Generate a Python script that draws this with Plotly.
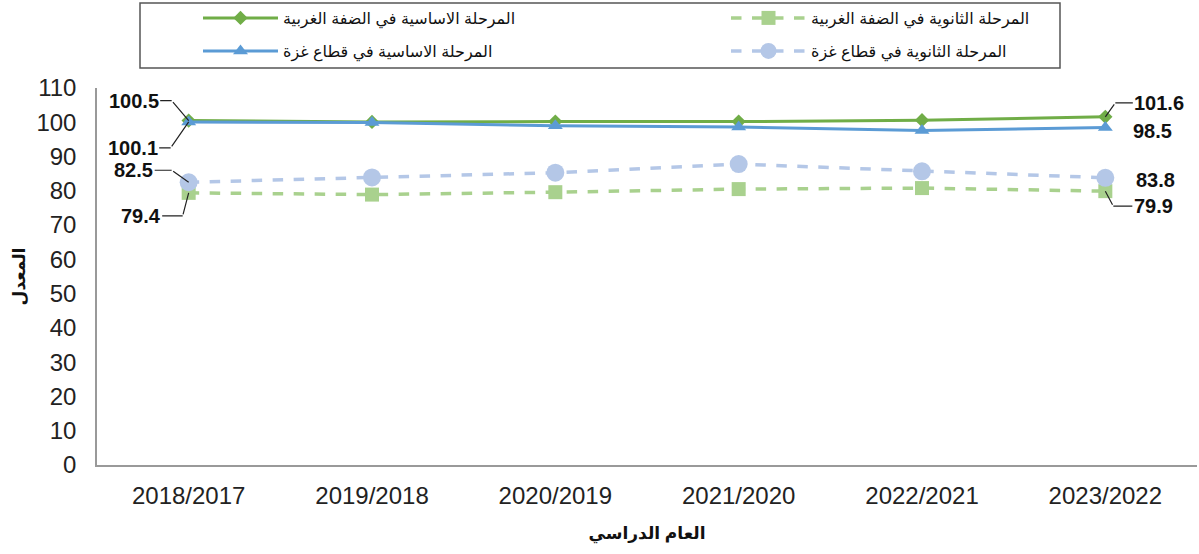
import plotly.graph_objects as go

years = ["2018/2017", "2019/2018", "2020/2019", "2021/2020", "2022/2021", "2023/2022"]
wb_basic = [100.5, 100.1, 100.2, 100.2, 100.6, 101.6]
wb_secondary = [79.4, 78.9, 79.6, 80.5, 80.8, 79.9]
gaza_basic = [100.1, 99.9, 99.0, 98.6, 97.6, 98.5]
gaza_secondary = [82.5, 83.9, 85.3, 87.8, 85.7, 83.8]

names = {
    "wb_basic": "المرحلة الاساسية في الضفة الغربية",
    "wb_secondary": "المرحلة الثانوية في الضفة الغربية",
    "gaza_basic": "المرحلة الاساسية في قطاع غزة",
    "gaza_secondary": "المرحلة الثانوية في قطاع غزة",
}

FONT = "Arial, Liberation Sans, DejaVu Sans, sans-serif"

fig = go.Figure()
fig.add_trace(go.Scatter(x=years, y=wb_basic, name=names["wb_basic"], mode="lines+markers",
                         legend="legend",
                         line=dict(color="#70AD47", width=3),
                         marker=dict(symbol="diamond", size=11, color="#70AD47")))
fig.add_trace(go.Scatter(x=years, y=wb_secondary, name=names["wb_secondary"], mode="lines+markers",
                         legend="legend",
                         line=dict(color="#A9D18E", width=3.5, dash="dash"),
                         marker=dict(symbol="square", size=14, color="#A9D18E")))
fig.add_trace(go.Scatter(x=years, y=gaza_basic, name=names["gaza_basic"], mode="lines+markers",
                         legend="legend2",
                         line=dict(color="#5B9BD5", width=3),
                         marker=dict(symbol="triangle-up", size=13, color="#5B9BD5")))
fig.add_trace(go.Scatter(x=years, y=gaza_secondary, name=names["gaza_secondary"], mode="lines+markers",
                         legend="legend2",
                         line=dict(color="#B4C7E7", width=3.5, dash="dash"),
                         marker=dict(symbol="circle", size=18, color="#B4C7E7")))

lab_font = dict(family=FONT, size=20, color="#111")
first, last = years[0], years[-1]
# (x, y, elbow dx, elbow dy (px, down positive), text dx from elbow, leader?)
labels = [
    (first, wb_basic[0], -17, -20, -38, True),
    (first, gaza_basic[0], -18, 26, -38, True),
    (first, gaza_secondary[0], -17, -12, -38, True),
    (first, wb_secondary[0], -6, 23, -42, True),
    (last, wb_basic[-1], 10, -14, 44, True),
    (last, gaza_basic[-1], 47, 4, 0, False),
    (last, gaza_secondary[-1], 50, 2, 0, False),
    (last, wb_secondary[-1], 8, 15, 40, True),
]
for x, y, edx, edy, tdx, leader in labels:
    txt = f"<b>{y:.1f}</b>"
    if leader:
        fig.add_annotation(x=x, y=y, text="", showarrow=True, ax=edx, ay=edy,
                           arrowhead=0, arrowwidth=1.2, arrowcolor="#222", standoff=0)
        fig.add_annotation(x=x, y=y, xshift=edx, yshift=-edy, text=txt, showarrow=True,
                           ax=tdx, ay=0, arrowhead=0, arrowwidth=1.2, arrowcolor="#222",
                           standoff=0, font=lab_font)
    else:
        fig.add_annotation(x=x, y=y, text=txt, showarrow=False, xshift=edx, yshift=-edy,
                           font=lab_font)

# legend frame
fig.add_shape(type="rect", xref="paper", yref="paper",
              x0=(140 - 97) / 1100, x1=(1060 - 97) / 1100,
              y0=(465 - 68) / 377, y1=(465 - 3) / 377,
              line=dict(color="#555", width=1.5), fillcolor="rgba(0,0,0,0)", layer="above")

leg_common = dict(orientation="h", xref="container", yref="container",
                  xanchor="left", yanchor="middle",
                  entrywidth=438, entrywidthmode="pixels", itemwidth=75,
                  bgcolor="rgba(0,0,0,0)", borderwidth=0,
                  font=dict(family=FONT, size=16, color="#111"))
fig.update_layout(
    width=1199, height=554,
    margin=dict(l=97, r=2, t=88, b=89, autoexpand=False),
    paper_bgcolor="white", plot_bgcolor="white",
    font=dict(family=FONT, color="#222"),
    showlegend=True,
    legend=dict(x=198 / 1199, y=1 - 18 / 554, **leg_common),
    legend2=dict(x=198 / 1199, y=1 - 51 / 554, **leg_common),
    xaxis=dict(type="category", range=[-0.5, 5.5], showgrid=False,
               showline=True, linecolor="#999", linewidth=1.5,
               ticks="", ticklabelstandoff=8,
               tickfont=dict(family=FONT, size=24, color="#222"),
               title=dict(text="<b>العام الدراسي</b>", font=dict(family=FONT, size=17, color="#111"),
                          standoff=20)),
    yaxis=dict(range=[0, 110], dtick=10, showgrid=False, zeroline=False,
               showline=True, linecolor="#999", linewidth=1.5,
               ticks="", ticklabelstandoff=14,
               tickfont=dict(family=FONT, size=24, color="#222"),
               title=dict(text="<b>المعدل</b>", font=dict(family=FONT, size=17, color="#111"),
                          standoff=6)),
)

fig.write_html("out.html", config={"displayModeBar": False},
               post_script="document.body.style.margin='0';document.body.style.padding='0';")
